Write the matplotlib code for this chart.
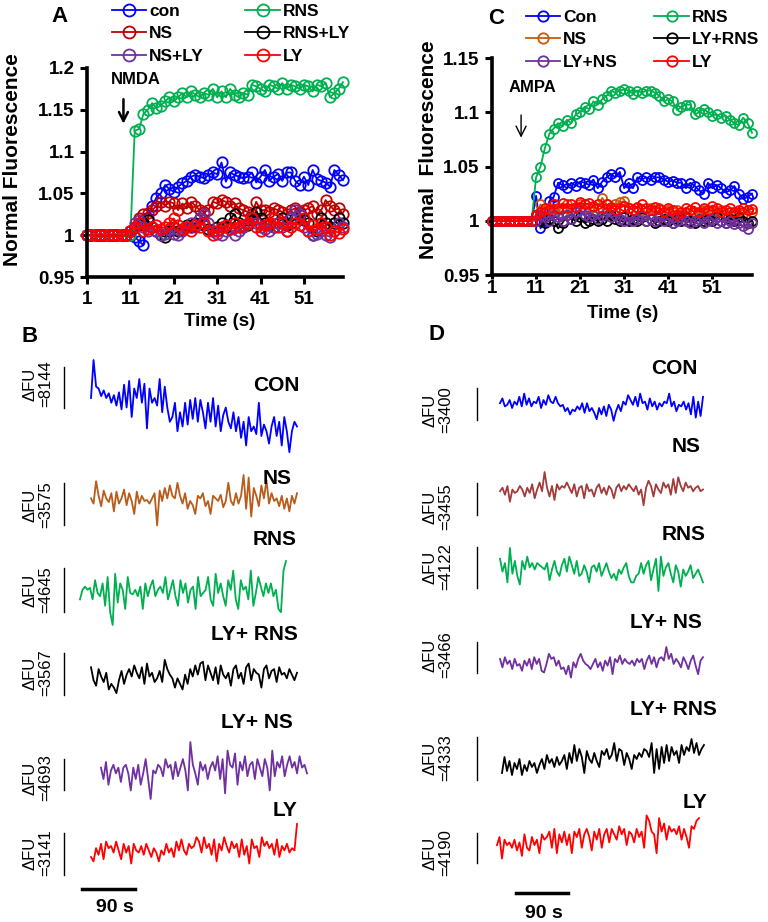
import numpy as np
import matplotlib
matplotlib.use('Agg')
import matplotlib.pyplot as plt
from matplotlib.lines import Line2D

plt.rcParams['font.family'] = ['Liberation Sans', 'DejaVu Sans']

W, H = 768, 922

# ---------------- panel A (NMDA) ----------------
time_s = np.arange(1, 61)
base = [1.0] * 10
a_con = base + [1.0, 0.998, 0.993, 0.988, 1.02, 1.035, 1.045, 1.05, 1.06, 1.055,
                1.052, 1.058, 1.062, 1.065, 1.07, 1.072, 1.07, 1.068, 1.072, 1.075,
                1.073, 1.087, 1.064, 1.075, 1.072, 1.07, 1.068, 1.07, 1.075, 1.063,
                1.07, 1.078, 1.065, 1.07, 1.073, 1.065, 1.075, 1.075, 1.065, 1.06,
                1.07, 1.06, 1.078, 1.067, 1.065, 1.063, 1.058, 1.078, 1.072, 1.066]
a_rns = base + [1.0, 1.125, 1.127, 1.145, 1.15, 1.158, 1.152, 1.155, 1.16, 1.165,
                1.16, 1.165, 1.17, 1.165, 1.172, 1.168, 1.165, 1.17, 1.168, 1.175,
                1.165, 1.172, 1.165, 1.175, 1.168, 1.165, 1.17, 1.168, 1.18, 1.178,
                1.175, 1.172, 1.18, 1.178, 1.175, 1.182, 1.175, 1.18, 1.178, 1.175,
                1.18, 1.178, 1.172, 1.18, 1.178, 1.182, 1.165, 1.17, 1.175, 1.183]
a_ns = base + [1.005, 1.01, 1.02, 1.025, 1.027, 1.03, 1.035, 1.04, 1.035, 1.04,
               1.038, 1.03, 1.038, 1.032, 1.04, 1.035, 1.03, 1.028, 1.03, 1.04,
               1.038, 1.042, 1.04, 1.035, 1.038, 1.032, 1.03, 1.028, 1.025, 1.04,
               1.03, 1.03, 1.028, 1.032, 1.03, 1.028, 1.025, 1.03, 1.032, 1.028,
               1.03, 1.032, 1.035, 1.025, 1.03, 1.042, 1.035, 1.03, 1.032, 1.025]
a_rns_ly = base + [1.005, 1.01, 1.012, 1.015, 1.018, 1.01, 1.005, 1.0, 0.998, 1.005,
                   1.01, 1.005, 1.008, 1.012, 1.01, 1.015, 1.02, 1.012, 1.008, 1.005,
                   1.01, 1.015, 1.01, 1.02, 1.025, 1.015, 1.01, 1.012, 1.018, 1.028,
                   1.02, 1.015, 1.012, 1.01, 1.015, 1.02, 1.012, 1.015, 1.02, 1.025,
                   1.018, 1.015, 1.0, 1.005, 1.02, 1.015, 1.01, 1.015, 1.02, 1.015]
a_ns_ly = base + [1.005, 1.015, 1.018, 1.01, 1.005, 1.01, 1.005, 1.0, 1.002, 1.008,
                  1.002, 1.0, 1.005, 1.01, 1.015, 1.01, 1.02, 1.025, 1.015, 1.005,
                  1.002, 1.0, 1.005, 1.008, 1.0, 1.005, 1.01, 1.015, 1.02, 1.015,
                  1.01, 1.008, 1.005, 1.01, 1.015, 1.01, 1.005, 1.02, 1.03, 1.025,
                  1.01, 1.005, 1.0, 1.002, 1.005, 1.0, 0.998, 1.005, 1.015, 1.01]
a_ly = base + [1.005, 1.01, 1.015, 1.005, 1.008, 1.01, 1.012, 1.008, 1.01, 1.015,
               1.02, 1.012, 1.008, 1.01, 1.005, 1.012, 1.01, 1.015, 1.005, 1.0,
               1.005, 1.01, 1.012, 1.008, 1.015, 1.01, 1.012, 1.015, 1.02, 1.01,
               1.005, 1.012, 1.015, 1.02, 1.01, 1.015, 1.005, 1.01, 1.015, 1.012,
               1.02, 1.005, 1.012, 1.008, 1.015, 1.01, 1.0, 1.005, 1.003, 1.008]

# ---------------- panel C (AMPA) ----------------
c_con = base + [1.023, 0.993, 1.0, 1.018, 1.022, 1.035, 1.033, 1.03, 1.035, 1.032,
                1.036, 1.035, 1.033, 1.038, 1.03, 1.036, 1.04, 1.043, 1.04, 1.045,
                1.03, 1.035, 1.03, 1.04, 1.038, 1.04, 1.038, 1.04, 1.04, 1.038,
                1.036, 1.037, 1.035, 1.035, 1.03, 1.035, 1.032, 1.028, 1.025, 1.035,
                1.03, 1.033, 1.03, 1.026, 1.028, 1.032, 1.025, 1.02, 1.022, 1.025]
c_rns = base + [1.04, 1.05, 1.067, 1.08, 1.085, 1.09, 1.087, 1.093, 1.09, 1.098,
                1.1, 1.105, 1.103, 1.11, 1.107, 1.112, 1.115, 1.12, 1.118, 1.12,
                1.121, 1.12, 1.117, 1.12, 1.118, 1.12, 1.12, 1.118, 1.115, 1.11,
                1.112, 1.11, 1.102, 1.105, 1.107, 1.107, 1.098, 1.1, 1.103, 1.1,
                1.097, 1.098, 1.095, 1.097, 1.093, 1.09, 1.088, 1.095, 1.09, 1.081]
c_ns = base + [1.005, 1.015, 1.01, 1.012, 1.008, 1.01, 1.012, 1.015, 1.01, 1.012,
               1.015, 1.012, 1.01, 1.013, 1.012, 1.021, 1.015, 1.012, 1.015, 1.017,
               1.018, 1.012, 1.01, 1.012, 1.01, 1.008, 1.012, 1.01, 1.012, 1.008,
               1.01, 1.008, 1.01, 1.006, 1.008, 1.01, 1.008, 1.006, 1.01, 1.008,
               1.006, 1.008, 1.01, 1.006, 1.008, 1.005, 1.008, 1.006, 1.01, 1.008]
c_ly_rns = base + [1.005, 1.0, 0.998, 1.002, 1.0, 0.993, 0.998, 1.005, 1.002, 1.0,
                   1.003, 0.998, 1.0, 1.002, 1.0, 1.002, 1.0, 1.005, 1.002, 1.0,
                   1.003, 1.0, 1.002, 1.0, 1.003, 1.0, 1.002, 0.998, 1.0, 1.002,
                   1.0, 0.998, 1.002, 1.0, 1.003, 1.0, 0.998, 1.002, 1.0, 1.002,
                   1.0, 1.003, 1.0, 0.998, 1.002, 1.0, 1.003, 1.0, 0.998, 1.0]
c_ly_ns = base + [1.0, 1.005, 1.003, 1.0, 1.005, 1.003, 1.0, 1.005, 1.002, 1.008,
                  1.01, 1.005, 1.003, 1.005, 1.002, 1.004, 1.008, 1.003, 1.005, 1.002,
                  1.0, 1.003, 1.0, 1.002, 1.004, 1.0, 1.002, 1.0, 1.003, 1.0,
                  1.002, 0.998, 1.0, 1.003, 1.0, 0.998, 1.0, 1.002, 0.998, 1.0,
                  1.002, 0.998, 1.0, 0.998, 1.0, 0.997, 0.998, 0.995, 0.992, 0.998]
c_ly = base + [1.005, 1.008, 1.012, 1.01, 1.015, 1.012, 1.016, 1.012, 1.015, 1.013,
               1.017, 1.015, 1.016, 1.014, 1.015, 1.012, 1.015, 1.013, 1.01, 1.012,
               1.014, 1.012, 1.01, 1.013, 1.015, 1.012, 1.01, 1.013, 1.011, 1.008,
               1.012, 1.01, 1.005, 1.008, 1.012, 1.01, 1.013, 1.008, 1.012, 1.01,
               1.014, 1.012, 1.008, 1.01, 1.012, 1.008, 1.01, 1.012, 1.01, 1.011]

time_ticks = [1, 11, 21, 31, 41, 51]
a_yticks = [0.95, 1.0, 1.05, 1.1, 1.15, 1.2]
a_yticklabels = ['0.95', '1', '1.05', '1.1', '1.15', '1.2']
c_yticks = [0.95, 1.0, 1.05, 1.1, 1.15]
c_yticklabels = ['0.95', '1', '1.05', '1.1', '1.15']

# ---------------- panels B / D: raw traces (relative units 0-10) ----------------
b_con = [6.0, 10, 7.2, 7.0, 6.2, 6.8, 6.0, 6.5, 5.5, 6.3, 5.2, 6.6, 4.8, 7.4, 5.0, 7.8, 4.0,
         7.0, 6.0, 8.0, 5.5, 7.5, 2.8, 7.0, 5.5, 6.0, 5.2, 8.0, 4.5, 7.2, 5.0, 3.5, 4.0, 5.5,
         2.5, 4.5, 3.0, 5.5, 3.2, 5.8, 3.8, 6.0, 3.5, 5.8, 4.5, 2.8, 5.5, 3.5, 6.0, 3.0, 5.2,
         2.5, 4.2, 5.0, 3.5, 2.8, 4.5, 2.5, 4.0, 1.8, 3.5, 1.0, 4.0, 2.5, 3.0, 2.2, 5.5, 2.0,
         3.2, 2.5, 1.2, 3.0, 4.0, 2.0, 3.5, 1.0, 4.0, 2.5, 0.3, 2.5, 3.5, 3.0]
b_ns = [5.5, 4.5, 8.8, 6.0, 4.0, 7.0, 5.5, 4.8, 6.5, 3.0, 6.8, 4.5, 5.5, 7.2, 4.2, 6.5, 5.0,
        2.5, 6.8, 4.5, 6.0, 5.0, 5.2, 4.5, 5.5, 6.5, 0.3, 7.0, 5.0, 7.5, 5.5, 8.0, 6.0, 5.5,
        8.5, 6.0, 4.5, 6.5, 3.5, 5.0, 4.2, 2.5, 6.0, 5.5, 6.5, 4.0, 5.0, 2.5, 6.0, 5.5, 5.0,
        6.2, 3.8, 5.0, 8.5, 5.0, 4.2, 6.5, 4.5, 6.0, 10, 3.5, 9.5, 2.0, 7.5, 6.0, 4.0, 8.0,
        5.5, 9.0, 4.5, 6.5, 5.0, 5.5, 4.0, 6.0, 3.5, 5.5, 3.0, 6.0, 4.5, 6.5]
b_rns = [4.0, 5.5, 6.0, 5.5, 5.8, 4.0, 7.0, 5.0, 4.5, 6.5, 3.0, 7.5, 2.0, 0.0, 8.0, 3.5, 6.5,
         5.5, 2.5, 7.5, 5.0, 4.8, 5.5, 4.5, 6.0, 2.5, 6.5, 4.5, 6.0, 7.0, 4.5, 5.5, 6.0, 5.0,
         7.5, 4.0, 5.5, 7.0, 4.5, 3.0, 7.0, 5.0, 6.5, 3.5, 5.5, 6.0, 2.5, 7.5, 4.5, 5.0, 5.5,
         7.5, 4.0, 3.0, 8.0, 5.0, 6.5, 4.5, 3.0, 7.0, 5.5, 8.5, 4.0, 2.5, 7.0, 5.5, 6.0, 4.0,
         8.5, 3.0, 5.0, 7.5, 6.0, 4.5, 6.5, 5.0, 6.5, 4.5, 5.5, 2.5, 2.0, 8.5, 10]
b_ly_rns = [7.5, 4.0, 2.5, 7.0, 5.0, 3.5, 6.0, 1.5, 3.0, 2.0, 0.5, 4.0, 6.5, 3.0, 5.5, 7.0,
            5.0, 8.0, 6.0, 4.5, 7.5, 3.0, 8.5, 5.0, 6.0, 3.5, 4.5, 6.5, 3.5, 9.5, 7.0, 5.5,
            4.5, 2.0, 4.5, 3.0, 1.5, 5.5, 3.0, 7.0, 5.0, 8.0, 5.5, 8.5, 9.0, 4.0, 8.0, 6.0,
            4.0, 7.5, 3.0, 8.0, 5.5, 4.5, 6.0, 2.5, 7.0, 8.0, 4.5, 6.0, 3.0, 7.5, 8.5, 4.0,
            7.0, 6.0, 5.5, 2.0, 7.0, 8.0, 4.5, 6.5, 7.0, 3.5, 7.5, 5.5, 6.0, 4.5, 7.0, 5.5,
            4.0, 6.0]
b_ly_ns = [5.5, 3.5, 6.5, 2.5, 5.0, 6.0, 4.5, 5.5, 3.0, 5.5, 6.0, 4.5, 1.5, 5.5, 3.5, 6.0,
           2.5, 4.5, 7.0, 3.5, 0.0, 5.0, 4.5, 6.0, 5.5, 4.0, 7.0, 5.5, 6.0, 3.5, 6.5, 4.0,
           5.5, 7.0, 5.0, 1.5, 10, 6.0, 4.5, 2.5, 6.5, 5.0, 6.0, 3.5, 5.5, 6.5, 5.0, 7.5,
           3.5, 7.0, 1.0, 8.5, 6.0, 5.5, 8.0, 2.5, 6.5, 5.0, 7.5, 4.0, 6.0, 6.5, 3.5, 7.0,
           5.5, 4.0, 7.0, 5.5, 1.5, 8.5, 4.0, 6.5, 5.5, 7.5, 4.0, 6.0, 7.5, 5.5, 6.5, 4.5,
           7.5, 5.5, 6.0, 4.5]
b_ly = [2.5, 1.5, 4.5, 3.0, 5.5, 2.0, 6.0, 4.5, 5.0, 3.5, 6.0, 4.0, 2.0, 5.5, 3.5, 5.0, 1.0,
        5.5, 4.0, 3.5, 5.0, 3.0, 5.5, 4.0, 2.5, 4.5, 3.5, 1.5, 4.0, 3.0, 5.5, 3.5, 4.5, 2.5,
        6.0, 4.0, 6.5, 4.0, 3.0, 5.5, 4.5, 5.0, 7.0, 6.0, 3.5, 7.0, 4.5, 5.5, 3.0, 6.5, 1.5,
        5.5, 4.0, 7.0, 5.0, 3.5, 6.0, 4.5, 5.5, 2.5, 6.5, 3.0, 5.0, 1.0, 6.5, 4.5, 5.0, 2.5,
        7.0, 5.0, 6.0, 4.5, 5.5, 3.0, 6.5, 2.5, 5.0, 4.0, 5.5, 3.5, 4.5, 4.0, 10]

d_con = [6.5, 8.0, 5.5, 6.0, 7.5, 5.0, 7.0, 6.0, 8.5, 5.5, 9.5, 6.0, 8.0, 5.5, 7.0, 6.5, 8.5,
         5.0, 7.5, 6.0, 9.0, 7.0, 6.5, 8.5, 6.5, 5.5, 6.0, 4.0, 5.0, 3.0, 4.5, 4.0, 5.5, 4.5,
         6.5, 3.5, 6.5, 4.0, 5.0, 3.5, 1.5, 5.0, 3.0, 5.5, 2.5, 6.0, 4.5, 1.0, 4.0, 6.0, 4.0,
         7.0, 6.0, 9.0, 7.5, 6.0, 8.5, 5.5, 9.5, 6.5, 7.0, 4.5, 8.0, 5.5, 7.0, 4.5, 6.5, 5.5,
         7.0, 6.5, 9.5, 5.5, 7.0, 4.0, 6.0, 5.5, 7.0, 4.5, 6.5, 3.0, 8.5, 2.0, 7.0, 2.5, 8.5]
d_ns = [4.5, 5.5, 3.5, 6.0, 1.5, 5.0, 4.0, 4.5, 6.0, 5.0, 3.0, 5.5, 4.0, 6.5, 2.5, 5.0, 7.0,
        4.5, 10, 5.5, 3.0, 6.0, 2.0, 6.5, 5.0, 6.0, 5.5, 7.0, 5.5, 4.0, 6.5, 3.0, 5.5, 6.0,
        2.5, 6.5, 4.5, 5.0, 3.0, 5.5, 6.5, 4.0, 5.5, 3.5, 6.0, 5.0, 2.5, 5.5, 6.5, 4.5, 6.0,
        5.0, 6.5, 5.5, 4.5, 6.0, 3.5, 5.0, 0.5, 5.5, 7.5, 6.0, 3.0, 6.5, 5.0, 4.0, 7.0, 5.5,
        6.5, 3.5, 8.0, 4.0, 8.5, 6.0, 4.5, 7.0, 5.5, 6.0, 4.5, 5.5, 6.0, 4.5, 5.0]
d_rns = [7.5, 4.5, 6.5, 2.0, 10, 4.0, 7.0, 3.5, 1.5, 7.0, 5.0, 8.0, 5.5, 6.5, 5.0, 6.5, 6.0,
         5.5, 5.0, 6.5, 2.5, 5.0, 7.0, 4.5, 3.5, 6.0, 7.5, 4.5, 8.0, 6.0, 4.0, 7.0, 3.5, 4.0,
         6.0, 4.5, 2.0, 5.5, 6.0, 4.5, 6.5, 3.5, 5.0, 6.5, 4.5, 3.0, 4.0, 2.5, 5.0, 4.0, 5.5,
         6.5, 3.5, 2.0, 2.0, 3.5, 4.0, 6.5, 4.0, 6.0, 7.0, 2.5, 5.0, 7.5, 0.0, 8.0, 3.5, 5.5,
         6.5, 4.0, 2.0, 6.0, 4.5, 1.0, 5.0, 3.5, 4.5, 6.0, 3.0, 4.0, 5.0, 3.5, 2.0]
d_ly_ns = [6.5, 4.0, 7.0, 5.0, 6.0, 3.5, 6.5, 4.5, 5.0, 3.0, 6.0, 4.5, 6.5, 3.5, 7.0, 5.0,
           6.5, 3.0, 2.5, 5.0, 8.0, 6.5, 7.0, 4.5, 6.0, 3.5, 4.0, 2.0, 4.5, 1.0, 5.5, 4.0,
           6.5, 8.0, 6.0, 5.0, 4.5, 3.5, 5.0, 6.5, 4.0, 5.5, 3.0, 6.0, 4.5, 7.0, 2.0, 6.5,
           5.5, 7.5, 5.0, 6.5, 5.5, 5.0, 6.0, 4.5, 6.5, 5.5, 6.5, 3.5, 6.0, 7.5, 5.0, 7.0,
           4.0, 6.5, 7.0, 6.0, 10, 6.5, 8.0, 5.0, 6.5, 5.5, 4.0, 7.0, 5.5, 3.5, 6.0, 7.5,
           4.5, 2.0, 6.0, 7.0]
d_ly_rns = [1.0, 5.0, 1.5, 4.0, 0.5, 3.5, 2.0, 4.5, 0.5, 3.0, 1.5, 4.0, 2.5, 3.5, 1.0, 3.0,
            4.5, 2.0, 5.5, 3.5, 4.5, 2.5, 5.0, 3.0, 4.0, 5.5, 2.0, 6.0, 3.5, 8.0, 4.0, 7.0,
            5.0, 1.0, 6.5, 4.5, 3.5, 6.0, 4.0, 2.5, 6.5, 5.5, 7.0, 4.5, 5.5, 8.5, 4.0, 7.0,
            6.5, 3.0, 6.0, 4.5, 2.0, 5.5, 4.5, 6.0, 5.0, 7.0, 6.5, 5.0, 8.5, 1.0, 7.0, 2.0,
            7.5, 3.5, 8.0, 4.0, 7.5, 5.5, 6.5, 3.5, 8.0, 5.5, 7.5, 6.5, 9.5, 6.0, 8.5, 5.5,
            7.0, 8.0]
d_ly = [3.5, 5.0, 1.0, 4.5, 3.5, 4.0, 3.0, 4.5, 2.5, 4.0, 1.5, 5.5, 3.0, 2.5, 5.0, 3.5, 4.5,
        2.0, 5.5, 4.5, 5.0, 6.0, 3.0, 6.5, 2.0, 5.5, 4.0, 6.0, 3.5, 5.5, 2.0, 6.0, 5.0, 6.5,
        3.0, 5.5, 6.5, 5.0, 2.5, 6.0, 4.5, 6.5, 3.0, 5.5, 6.5, 4.0, 6.5, 5.5, 4.5, 7.0, 5.5,
        6.5, 3.5, 6.0, 5.5, 4.0, 6.5, 5.0, 6.0, 3.0, 9.0, 8.0, 6.0, 5.5, 2.0, 8.5, 6.0, 7.5,
        4.5, 7.0, 6.0, 6.5, 5.5, 7.0, 4.5, 6.5, 5.0, 3.0, 7.0, 6.5, 8.0, 8.5]

b_names = ['CON', 'NS', 'RNS', 'LY+ RNS', 'LY+ NS', 'LY']
b_dfu = ['8144', '3575', '4645', '3567', '4693', '3141']
d_names = ['CON', 'NS', 'RNS', 'LY+ NS', 'LY+ RNS', 'LY']
d_dfu = ['3400', '3455', '4122', '3466', '4333', '4190']

BLUE = '#0000ff'
GREEN = '#00b050'
DKRED = '#c00000'
RED = '#ff0000'
PURPLE = '#7030a0'
BLACK = '#000000'
BROWN = '#c55a11'


def fx(px):
    return px / W


def fy(py):
    return 1 - py / H


fig = plt.figure(figsize=(W / 100, H / 100), dpi=100)


def style_axes(ax, yticks, ylabels, ylim, xpad):
    ax.set_xlim(1, 60)
    ax.set_ylim(*ylim)
    ax.set_xticks(time_ticks)
    ax.set_yticks(yticks)
    ax.set_yticklabels(ylabels)
    for s in ['top', 'right']:
        ax.spines[s].set_visible(False)
    for s in ['left', 'bottom']:
        ax.spines[s].set_linewidth(2.6)
    ax.tick_params(direction='out', width=2.2, length=5, labelsize=13.5)
    ax.tick_params(axis='x', pad=xpad)
    ax.tick_params(axis='y', pad=4)
    for lbl in ax.get_xticklabels() + ax.get_yticklabels():
        lbl.set_fontweight('bold')


legend_kw = dict(ncol=2, frameon=False, loc='upper left', borderpad=0,
                 handlelength=2.0, handletextpad=0.15, labelspacing=0.42,
                 markerscale=1.15, prop=dict(size=12.5, weight='bold'))

# panel A
axA = fig.add_axes([fx(87), fy(277), fx(343) - fx(87), fy(68) - fy(277)])
a_series = [(a_con, BLUE, 'con'), (a_rns, GREEN, 'RNS'), (a_ns, DKRED, 'NS'),
            (a_rns_ly, BLACK, 'RNS+LY'), (a_ns_ly, PURPLE, 'NS+LY'), (a_ly, RED, 'LY')]
hA = {}
for vals, col, lab in a_series:
    hA[lab], = axA.plot(time_s, vals, '-o', color=col, mfc='none', mec=col, ms=7.5,
                        mew=1.3, lw=1.3, label=lab, clip_on=False)
style_axes(axA, a_yticks, a_yticklabels, (0.95, 1.2), 5)
axA.annotate('', xy=(9.4, 1.13), xytext=(9.4, 1.166),
             arrowprops=dict(arrowstyle='->', lw=1.8, color='black', mutation_scale=16))
axA.text(12.2, 1.186, 'NMDA', fontsize=12, fontweight='bold', ha='center', va='center')
order_a = ['con', 'NS', 'NS+LY', 'RNS', 'RNS+LY', 'LY']
fig.legend([hA[k] for k in order_a], order_a, bbox_to_anchor=(fx(103), fy(-5)),
           columnspacing=2.4, **legend_kw)
fig.text(fx(13), fy(160), 'Normal Fluorescence', rotation=90, ha='center', va='center',
         fontsize=15, fontweight='bold')
fig.text(fx(220), fy(322), 'Time (s)', ha='center', va='center', fontsize=13.5,
         fontweight='bold')

# panel C
axC = fig.add_axes([fx(492), fy(275), fx(752) - fx(492), fy(58) - fy(275)])
c_series = [(c_con, BLUE, 'Con'), (c_rns, GREEN, 'RNS'), (c_ns, BROWN, 'NS'),
            (c_ly_rns, BLACK, 'LY+RNS'), (c_ly_ns, PURPLE, 'LY+NS'), (c_ly, RED, 'LY')]
hC = {}
for vals, col, lab in c_series:
    hC[lab], = axC.plot(time_s, vals, '-o', color=col, mfc='none', mec=col, ms=6.5,
                        mew=1.3, lw=1.3, label=lab, clip_on=False)
style_axes(axC, c_yticks, c_yticklabels, (0.95, 1.15), 0.5)
axC.tick_params(axis='x', length=3)
axC.annotate('', xy=(7.6, 1.074), xytext=(7.6, 1.1),
             arrowprops=dict(arrowstyle='->', lw=1.0, color='black', mutation_scale=18))
axC.text(10.1, 1.123, 'AMPA', fontsize=12, fontweight='bold', ha='center', va='center')
order_c = ['Con', 'NS', 'LY+NS', 'RNS', 'LY+RNS', 'LY']
fig.legend([hC[k] for k in order_c], order_c, bbox_to_anchor=(fx(517), fy(1)),
           columnspacing=2.1, **legend_kw)
fig.text(fx(428), fy(150), 'Normal  Fluorescence', rotation=90, ha='center', va='center',
         fontsize=15, fontweight='bold')
fig.text(fx(623), fy(313), 'Time (s)', ha='center', va='center', fontsize=13.5,
         fontweight='bold')

# panel letters
for letter, px, py in [('A', 60, 17), ('C', 496, 18), ('B', 30, 337), ('D', 436, 335)]:
    fig.text(fx(px), fy(py), letter, ha='center', va='center', fontsize=16,
             fontweight='bold')

# traces: (values, colour, box x0, x1, ytop, ybot, name pos, bar y0/y1, label y)
b_traces = [
    (b_con, BLUE, 91, 297, 360, 455, (300, 385), (367, 408), 384),
    (b_ns, '#b85c1a', 91, 297, 475, 527, (292, 478), (483, 525), 505),
    (b_rns, GREEN, 80, 286, 561, 625, (297, 539), (568, 612), 590),
    (b_ly_rns, BLACK, 91, 297, 658, 695, (298, 634), (653, 695), 673),
    (b_ly_ns, PURPLE, 101, 307, 742, 799, (293, 723), (759, 790), 778),
    (b_ly, RED, 91, 297, 824, 868, (297, 810), (833, 875), 853),
]
d_traces = [
    (d_con, BLUE, 500, 703, 392, 424, (697, 368), (388, 420), 410),
    (d_ns, '#a33b3b', 500, 703, 472, 507, (701, 446), (483, 515), 507),
    (d_rns, GREEN, 500, 703, 548, 591, (706, 535), (547, 588), 567),
    (d_ly_ns, PURPLE, 500, 703, 647, 681, (702, 623), (642, 673), 655),
    (d_ly_rns, BLACK, 502, 704, 737, 777, (717, 709), (737, 780), 758),
    (d_ly, RED, 497, 699, 810, 864, (707, 802), (833, 863), 853),
]


def draw_traces(traces, names, dfus, bar_x, lab_x):
    for (vals, col, x0, x1, yt, yb, npos, bar, lab_y), name, dfu in zip(traces, names, dfus):
        ax = fig.add_axes([fx(x0), fy(yb), fx(x1) - fx(x0), fy(yt) - fy(yb)])
        ax.plot(np.arange(len(vals)), vals, color=col, lw=1.3, clip_on=False)
        ax.set_xlim(0, len(vals) - 1)
        ax.set_ylim(0, 10)
        ax.axis('off')
        fig.text(fx(npos[0]), fy(npos[1]), name, ha='right', va='center', fontsize=15,
                 fontweight='bold')
        fig.add_artist(Line2D([fx(bar_x), fx(bar_x)], [fy(bar[0]), fy(bar[1])],
                              color='black', lw=1.0, transform=fig.transFigure))
        fig.text(fx(lab_x), fy(lab_y), '\u0394FU\n=' + dfu, rotation=90, ha='center',
                 va='center', fontsize=12, multialignment='center', linespacing=1.05)


draw_traces(b_traces, b_names, b_dfu, 64, 38)
draw_traces(d_traces, d_names, d_dfu, 477, 438)

# 90 s time bars
for x0, x1, yb, xt, yt in [(82, 135, 889, 115, 907), (516, 568, 893, 544, 913)]:
    fig.add_artist(Line2D([fx(x0), fx(x1)], [fy(yb), fy(yb)], color='black', lw=2.5,
                          transform=fig.transFigure))
    fig.text(fx(xt), fy(yt), '90 s', ha='center', va='center', fontsize=14,
             fontweight='bold')

fig.savefig('out.png', dpi=100)
